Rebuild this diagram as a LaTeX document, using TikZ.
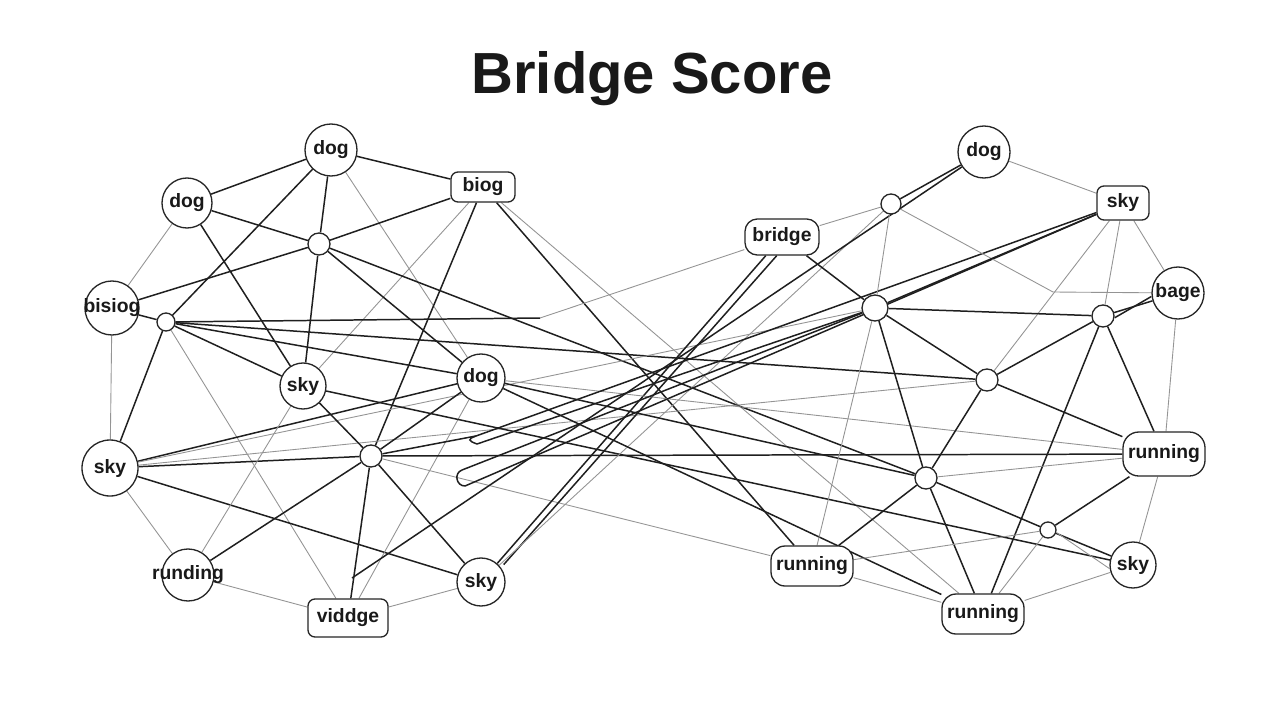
\documentclass[tikz,border=0pt]{standalone}
\usepackage{fontspec}
\setmainfont{Liberation Sans}
\usetikzlibrary{backgrounds}
\tikzset{
  lab/.style={font=\fontsize{11}{12}\selectfont\bfseries, inner sep=0pt, text=black!90},
  nd/.style={draw=black!85, line width=0.75pt, fill=white},
  circ/.style={nd, circle, inner sep=0pt, minimum size=#1*0.02cm},
  dotn/.style={nd, circle, inner sep=0pt, minimum size=#1*0.02cm},
  boxn/.style={nd, rounded corners=4pt, inner sep=0pt, lab, minimum width=#1*0.02cm},
  k/.style={draw=black!88, line width=0.85pt},
  t/.style={draw=black!42, line width=0.5pt}
}
\begin{document}
\begin{tikzpicture}[x=0.02cm,y=-0.02cm]
\useasboundingbox (0,0) rectangle (1280,720);
\begin{scope}[on background layer]
\fill[white] (0,0) rectangle (1280,720);
\end{scope}
\node[font=\fontsize{33}{38}\selectfont\bfseries, text=black!90] (title) at (652,79) {Bridge Score};

% left cluster
\node[circ=52, label={[lab]center:dog}] (L1) at (331,150) {};
\node[circ=50, label={[lab]center:dog}] (L2) at (187,203) {};
\node[boxn=64, minimum height=30*0.02cm] (L3) at (483,187) {biog};
\node[dotn=22] (L4) at (319,244) {};
\node[circ=54, label={[lab]center:bisiog}] (L5) at (112,308) {};
\node[dotn=18] (L6) at (166,322) {};
\node[circ=46, label={[lab]center:sky}] (L7) at (303,386) {};
\node[circ=48, label={[lab]center:dog}] (L8) at (481,378) {};
\node[dotn=22] (L9) at (371,456) {};
\node[circ=56, label={[lab]center:sky}] (L10) at (110,468) {};
\node[circ=52, label={[lab]center:runding}] (L11) at (188,575) {};
\node[boxn=80, minimum height=38*0.02cm] (L12) at (348,618) {viddge};
\node[circ=48, label={[lab]center:sky}] (L13) at (481,582) {};

% right cluster
\node[circ=52, label={[lab]center:dog}] (R1) at (984,152) {};
\node[dotn=20] (R2) at (891,204) {};
\node[boxn=52, minimum height=34*0.02cm] (R3) at (1123,203) {sky};
\node[boxn=74, minimum height=36*0.02cm, rounded corners=7pt] (R4) at (782,237) {bridge};
\node[dotn=26] (R5) at (875,308) {};
\node[circ=52, label={[lab]center:bage}] (R6) at (1178,293) {};
\node[dotn=22] (R7) at (1103,316) {};
\node[dotn=22] (R8) at (987,380) {};
\node[boxn=82, minimum height=44*0.02cm, rounded corners=9pt] (R9) at (1164,454) {running};
\node[dotn=22] (R10) at (926,478) {};
\node[dotn=16] (R11) at (1048,530) {};
\node[boxn=82, minimum height=40*0.02cm, rounded corners=8pt] (R12) at (812,566) {running};
\node[circ=46, label={[lab]center:sky}] (R13) at (1133,565) {};
\node[boxn=82, minimum height=40*0.02cm, rounded corners=8pt] (R14) at (983,614) {running};

% free ends
\coordinate (e1) at (352,578);
\coordinate (b1) at (540,318);
\coordinate (b2) at (1053,292);
\coordinate (lAt) at (476,436);
\coordinate (lAb) at (477,444);
\coordinate (lBt) at (462,470);
\coordinate (lBb) at (465,486);

\begin{scope}[on background layer]
% left cluster edges
\draw[k] (L1) -- (L2);
\draw[k] (L1) -- (L3);
\draw[k] (L1) -- (L4);
\draw[k] (L1) -- (L6);
\draw[t] (L1) -- (L8);
\draw[k] (L2) -- (L4);
\draw[t] (L2) -- (L5);
\draw[k] (L2) -- (L7);
\draw[k] (L3) -- (L4);
\draw[t] (L3) -- (L7);
\draw[k] (L3) -- (L9);
\draw[k] (L3) -- (R12);
\draw[t] (L3) -- (R14);
\draw[k] (L4) -- (L5);
\draw[k] (L4) -- (L7);
\draw[k] (L4) -- (L8);
\draw[k] (L4) -- (R10);
\draw[k] (L5) -- (L6);
\draw[t] (L5) -- (L10);
\draw[k] (L6) -- (b1);
\draw[t] (b1) -- (R4);
\draw[k] (L6) -- (L8);
\draw[k] (L6) -- (L10);
\draw[t] (L6) -- (L12);
\draw[k] (L6) -- (L7);
\draw[k] (L6) -- (R8);
\draw[k] (L10) -- (L8);
\draw[k] (L10) -- (L9);
\draw[t] (L10) -- (R8);
\draw[t] (L10) -- (R5);
\draw[k] (L10) -- (L13);
\draw[t] (L10) -- (L11);
\draw[k] (L11) -- (L9);
\draw[t] (L11) -- (L7);
\draw[t] (L11) -- (L12);
\draw[k] (L12) -- (L9);
\draw[t] (L12) -- (L13);
\draw[t] (L12) -- (L8);
\draw[k] (L7) -- (L9);
\draw[k] (L7) -- (R13);
\draw[k] (L9) -- (L13);
\draw[k] (L9) -- (L8);
\draw[t] (L9) -- (R12);
\draw[k] (L9) -- (lAt);
\draw[k] (L9) -- (R9);
\draw[k] (L13) -- (R4);
\draw[k] ([xshift=3pt]L13.north east) -- ([xshift=-3pt]R4.south);
\draw[t] (L13) -- (R2);
\draw[k] (L8) -- (R10);
\draw[t] (L8) -- (R9);
\draw[k] (L8) -- (R14);
% long lines with loops
\draw[k] (R1) -- (e1);
\draw[k] (R3) -- (lAt);
\draw[k] (R5) -- (lAb);
\draw[k] (lAt) to[out=200,in=160,looseness=3] (lAb);
\draw[k] (R5) -- (lBt);
\draw[k] (R3) -- (lBb);
\draw[k] (lBt) to[out=200,in=180,looseness=1.4] (lBb);
% right cluster edges
\draw[k] (R1) -- (R2);
\draw[t] (R1) -- (R3);
\draw[t] (R2) -- (R4);
\draw[t] (R2) -- (R5);
\draw[t] (R2) -- (b2) -- (R6);
\draw[k] (R4) -- (R5);
\draw[k] (R3) -- (R5);
\draw[t] (R3) -- (R8);
\draw[t] (R3) -- (R7);
\draw[t] (R3) -- (R6);
\draw[k] (R6) -- (R7);
\draw[k] ([yshift=-2pt]R6.west) -- ([yshift=-1pt]R7.east);
\draw[t] (R6) -- (R9);
\draw[k] (R5) -- (R7);
\draw[t] (R5) -- (R12);
\draw[k] (R5) -- (R10);
\draw[k] (R5) -- (R8);
\draw[k] (R7) -- (R8);
\draw[k] (R7) -- (R14);
\draw[k] (R7) -- (R9);
\draw[k] (R8) -- (R9);
\draw[k] (R8) -- (R10);
\draw[t] (R10) -- (R9);
\draw[k] (R10) -- (R12);
\draw[k] (R10) -- (R14);
\draw[k] (R10) -- (R11);
\draw[k] (R11) -- (R9);
\draw[k] (R11) -- (R13);
\draw[t] ([yshift=-1.5pt]R11.east) -- ([yshift=-2pt]R13.west);
\draw[t] (R11) -- (R12);
\draw[t] (R11) -- (R14);
\draw[t] (R12) -- (R14);
\draw[t] (R13) -- (R14);
\draw[t] (R9) -- (R13);
\end{scope}
\end{tikzpicture}
\end{document}
